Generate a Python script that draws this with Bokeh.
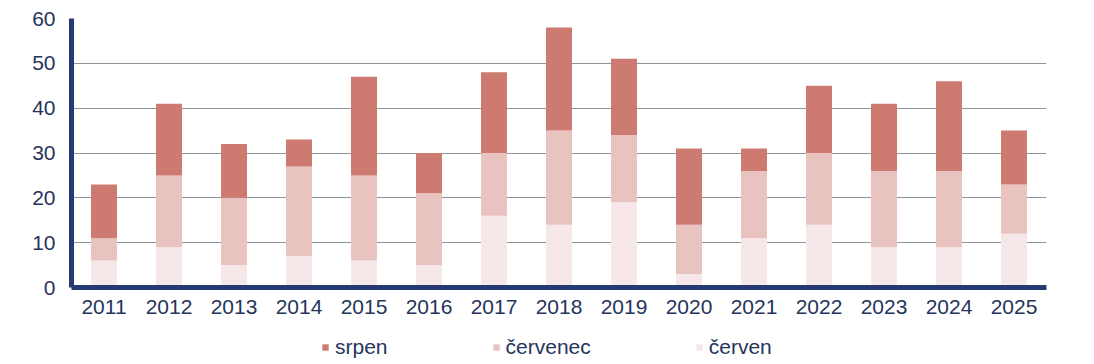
from bokeh.plotting import figure
from bokeh.layouts import column
from bokeh.models import FactorRange, Range1d, Legend, LegendItem, ColumnDataSource
from bokeh.embed import file_html
from bokeh.resources import INLINE

years = ["2011", "2012", "2013", "2014", "2015", "2016", "2017", "2018",
         "2019", "2020", "2021", "2022", "2023", "2024", "2025"]
cerven = [6, 9, 5, 7, 6, 5, 16, 14, 19, 3, 11, 14, 9, 9, 12]
cervenec = [5, 16, 15, 20, 19, 16, 14, 21, 15, 11, 15, 16, 17, 17, 11]
srpen = [12, 16, 12, 6, 22, 9, 18, 23, 17, 17, 5, 15, 15, 20, 12]
y_ticks = [0, 10, 20, 30, 40, 50, 60]

series = ["cerven", "cervenec", "srpen"]
labels = {"cerven": "červen", "cervenec": "červenec", "srpen": "srpen"}
colors = {"cerven": "#f6e8e8", "cervenec": "#e8c3c0", "srpen": "#cd7a70"}

source = ColumnDataSource(dict(years=years, cerven=cerven, cervenec=cervenec, srpen=srpen))

NAVY = "#253a72"
TXT = "#26345c"
FONT = "Liberation Sans"

p = figure(width=1086, height=330, x_range=FactorRange(*years), y_range=Range1d(0, 60),
           output_backend="svg", toolbar_location=None,
           min_border_left=71, min_border_right=40, min_border_top=18, min_border_bottom=43)
p.outline_line_color = None
p.background_fill_color = "white"

rs = p.vbar_stack(series, x="years", width=0.4, source=source,
                  color=[colors[s] for s in series], line_color=None)

p.xgrid.grid_line_color = None
p.ygrid.grid_line_color = "#8c959c"
p.ygrid.grid_line_width = 1
p.yaxis.ticker = y_ticks

for ax in (p.xaxis[0], p.yaxis[0]):
    ax.axis_line_color = NAVY
    ax.axis_line_width = 5
    ax.major_tick_line_color = None
    ax.minor_tick_line_color = None
    ax.major_tick_out = 0
    ax.major_tick_in = 0
    ax.major_label_text_font = FONT
    ax.major_label_text_font_size = "21px"
    ax.major_label_text_color = TXT
p.yaxis.major_label_standoff = 16
p.xaxis.major_label_standoff = 12

# legend strip below the chart (its glyphs sit outside the strip's visible range)
lg = figure(width=1086, height=30, x_range=FactorRange(*years), y_range=Range1d(1000, 1001),
            output_backend="svg", toolbar_location=None,
            x_axis_location=None, y_axis_location=None,
            min_border_left=0, min_border_right=0, min_border_top=0, min_border_bottom=0)
lg.outline_line_color = None
lg.grid.grid_line_color = None
lrs = lg.vbar_stack(series, x="years", width=0.4, source=source,
                    color=[colors[s] for s in series], line_color=None)
lmap = dict(zip(series, lrs))

items = [LegendItem(label=labels[s], renderers=[lmap[s]]) for s in ["srpen", "cervenec", "cerven"]]
legend = Legend(items=items, orientation="horizontal", location=(250, 1),
                glyph_width=8, glyph_height=8, label_standoff=6, spacing=104,
                padding=0, margin=0, border_line_color=None, background_fill_alpha=0,
                label_text_font=FONT, label_text_font_size="21px", label_text_color=TXT)
lg.add_layout(legend, "center")

layout = column(p, lg, spacing=0)
open("out.html", "w").write(file_html(layout, INLINE))
